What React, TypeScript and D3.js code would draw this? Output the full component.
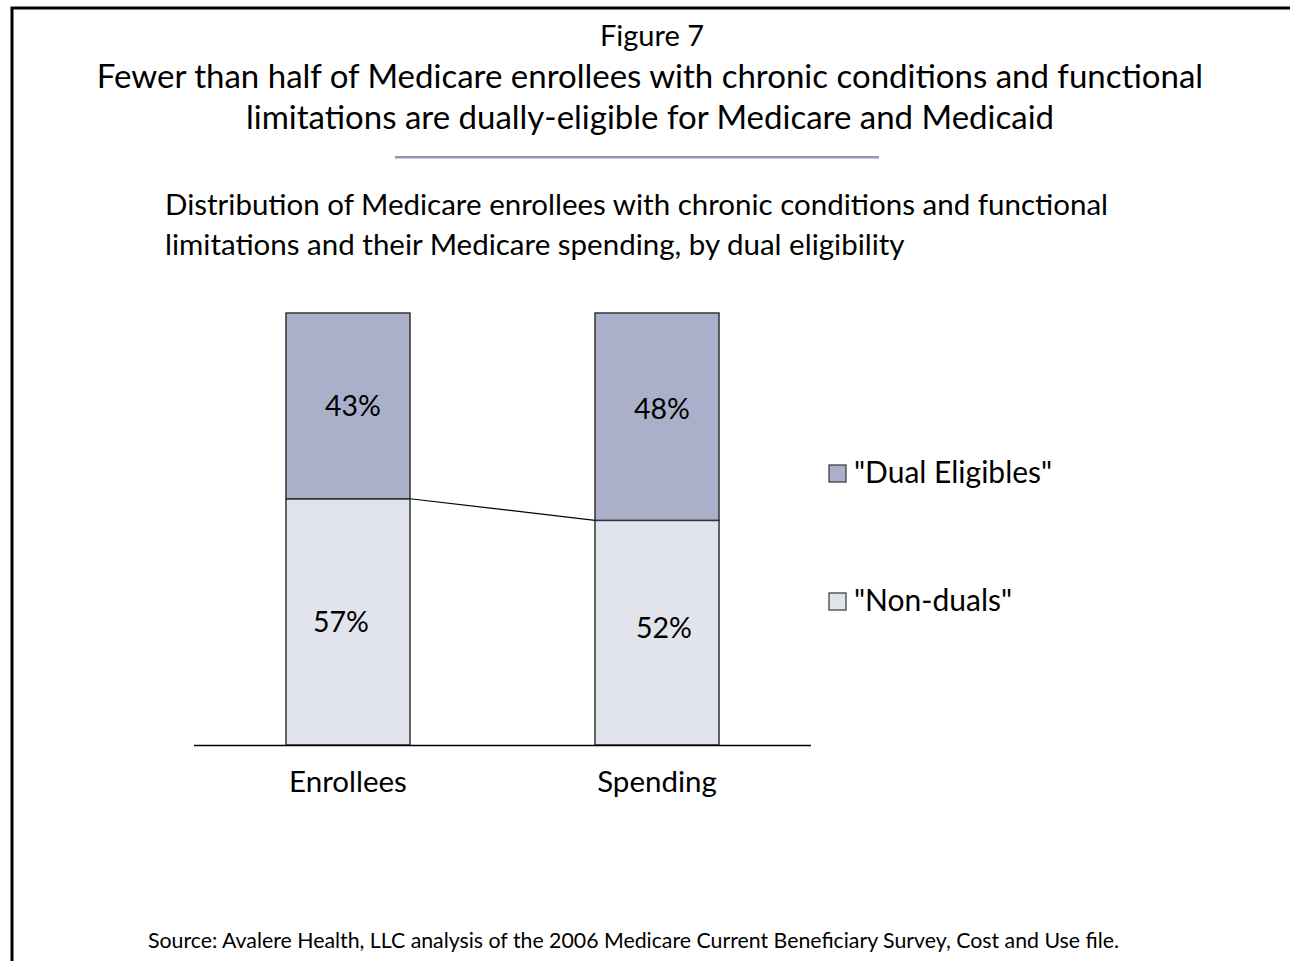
import React from "react";
import * as d3 from "d3";

const categories = ["Enrollees", "Spending"];
const seriesNames = ['"Dual Eligibles"', '"Non-duals"'];
const dualValues = [43, 48];
const nonDualValues = [57, 52];
const seriesColors = ["#aab0ca", "#e1e4ec"];

const W = 1290;
const H = 961;
const FONT = "Lato, 'Open Sans', sans-serif";

export default function App() {
  const baseY = 745;
  const topY = 313;
  const y = d3.scaleLinear().domain([0, 100]).range([baseY, topY]);
  const x = d3.scaleBand<string>().domain(categories).range([194, 811]).paddingInner(0.5987).paddingOuter(0.2977);
  const bw = x.bandwidth();

  const stackData = categories.map((c, i) => ({ cat: c, nondual: nonDualValues[i], dual: dualValues[i] }));
  const stack = d3.stack<any>().keys(["nondual", "dual"])(stackData);
  const nondualLayer = stack[0];
  const dualLayer = stack[1];

  const lineGen = d3.line<[number, number]>().x((d) => d[0]).y((d) => d[1]);
  const connector: [number, number][] = [
    [(x(categories[0]) as number) + bw, y(nondualLayer[0][1])],
    [x(categories[1]) as number, y(nondualLayer[1][1])],
  ];

  // small nudges of the value labels inside each segment
  const labelDx = [
    [-7, 7],
    [5, 5],
  ];
  const labelDy = [
    [0, -5],
    [0, -8],
  ];

  return (
    <svg width={W} height={H} style={{ position: "absolute", left: 0, top: 0, background: "#fff" }} fontFamily={FONT}>
      <rect x={0} y={0} width={W} height={H} fill="#fff" />
      {/* frame */}
      <path d={`M12,${H + 5} L12,8 L${W + 5},8`} fill="none" stroke="#000" strokeWidth={3} />

      <text x={652} y={46} textAnchor="middle" fontSize={29} fill="#000">Figure 7</text>
      <text x={650} y={88} textAnchor="middle" fontSize={33} fill="#000">
        Fewer than half of Medicare enrollees with chronic conditions and functional
      </text>
      <text x={650} y={129} textAnchor="middle" fontSize={33} fill="#000">
        limitations are dually-eligible for Medicare and Medicaid
      </text>
      <line x1={395} x2={879} y1={157} y2={157} stroke="#6b7399" strokeWidth={1.5} />
      <line x1={395} x2={879} y1={158.5} y2={158.5} stroke="#c5cbe0" strokeWidth={1} />

      <text x={165} y={215} fontSize={29.5} fill="#000">
        Distribution of Medicare enrollees with chronic conditions and functional
      </text>
      <text x={165} y={255} fontSize={29.5} fill="#000">
        limitations and their Medicare spending, by dual eligibility
      </text>

      {/* bars */}
      {[nondualLayer, dualLayer].map((layer, li) =>
        layer.map((d: any, i: number) => (
          <rect
            key={`${li}-${i}`}
            x={x(categories[i])}
            y={y(d[1])}
            width={bw}
            height={y(d[0]) - y(d[1])}
            fill={seriesColors[li === 0 ? 1 : 0]}
            stroke="#333"
            strokeWidth={1.5}
          />
        ))
      )}
      <path d={lineGen(connector) || ""} fill="none" stroke="#000" strokeWidth={1.2} />

      {/* value labels */}
      {[nondualLayer, dualLayer].map((layer, li) =>
        layer.map((d: any, i: number) => (
          <text
            key={`l-${li}-${i}`}
            x={(x(categories[i]) as number) + bw / 2 + labelDx[li][i]}
            y={(y(d[0]) + y(d[1])) / 2 + 10 + labelDy[li][i]}
            textAnchor="middle"
            fontSize={28.5}
            fill="#000"
          >
            {`${li === 0 ? nonDualValues[i] : dualValues[i]}%`}
          </text>
        ))
      )}

      {/* axis */}
      <line x1={194} x2={811} y1={baseY + 0.5} y2={baseY + 0.5} stroke="#000" strokeWidth={1.3} />
      {categories.map((c) => (
        <text key={c} x={(x(c) as number) + bw / 2} y={792} textAnchor="middle" fontSize={29.5} fill="#000">
          {c}
        </text>
      ))}

      {/* legend */}
      {[0, 1].map((i) => (
        <g key={i} transform={`translate(829, ${465 + i * 128})`}>
          <rect x={0} y={0} width={17} height={17} fill={seriesColors[i]} stroke="#333" strokeWidth={1.2} />
          <text x={25} y={18} fontSize={30} fill="#000">{seriesNames[i]}</text>
        </g>
      ))}

      <text x={148} y={948} fontSize={21.3} fill="#000">
        Source: Avalere Health, LLC analysis of the 2006 Medicare Current Beneficiary Survey, Cost and Use file.
      </text>
    </svg>
  );
}
